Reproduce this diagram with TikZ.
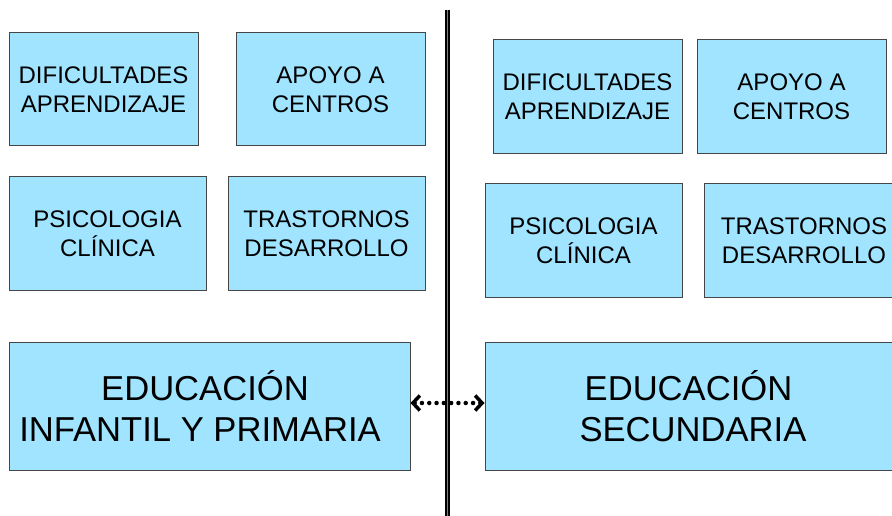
\documentclass[tikz,border=0pt]{standalone}
\usepackage{fontspec}
\setmainfont{Liberation Sans}
\usetikzlibrary{arrows.meta}
\definecolor{boxfill}{RGB}{160,228,255}
\definecolor{boxline}{RGB}{70,70,70}
\begin{document}
\begin{tikzpicture}[x=1pt,y=-1pt,
  smallbox/.style={draw=boxline,line width=1pt,fill=boxfill,align=center,inner sep=0pt,
    font=\fontsize{24}{29}\selectfont},
  bigbox/.style={draw=boxline,line width=1pt,fill=boxfill,align=center,inner sep=0pt,
    font=\fontsize{34.6}{41}\selectfont},
  link/.style={line width=4.5pt,line cap=round,dash pattern=on 0pt off 7.3pt,
    {Straight Barb[length=7pt,width=15pt,line width=3.5pt]}-{Straight Barb[length=7pt,width=15pt,line width=3.5pt]}}]
\useasboundingbox (0,0) rectangle (892,516);
\clip (0,0) rectangle (892,516);
% left column
\node[smallbox,minimum width=189pt,minimum height=113pt] (la) at (103.5,89.5) {DIFICULTADES\\APRENDIZAJE};
\node[smallbox,minimum width=189pt,minimum height=113pt] (lb) at (330.5,89.5) {APOYO A\\CENTROS};
\node[smallbox,minimum width=197pt,minimum height=113pt] (lc) at (107.5,233.5) {PSICOLOGIA\\CLÍNICA};
\node[smallbox,minimum width=197pt,minimum height=113pt] (ld) at (326.5,233.5) {TRASTORNOS\\DESARROLLO};
\node[bigbox,minimum width=401pt,minimum height=128pt] (le) at (209.5,406) {\hspace*{-9pt}EDUCACIÓN\\\hspace*{-19pt}INFANTIL Y PRIMARIA};
% right column
\node[smallbox,minimum width=189pt,minimum height=114pt] (ra) at (587.5,97) {DIFICULTADES\\APRENDIZAJE};
\node[smallbox,minimum width=189pt,minimum height=114pt] (rb) at (791.5,97) {APOYO A\\CENTROS};
\node[smallbox,minimum width=197pt,minimum height=113pt] (rc) at (583.5,240.5) {PSICOLOGIA\\CLÍNICA};
\node[smallbox,minimum width=200pt,minimum height=113pt] (rd) at (804,240.5) {TRASTORNOS\\DESARROLLO};
\node[bigbox,minimum width=430pt,minimum height=128pt] (re) at (700,406) {\hspace*{-23pt}EDUCACIÓN\\\hspace*{-14pt}SECUNDARIA};
% divider
\coordinate (dtop) at (447.5,10);
\coordinate (dbot) at (447.5,516);
\draw[line width=5pt,black] (dtop) -- (dbot);
\draw[line width=1pt,gray] (dtop) -- (dbot);
% link
\draw[link] (le.east |- 0,403) -- (re.west |- 0,403);
\end{tikzpicture}
\end{document}
